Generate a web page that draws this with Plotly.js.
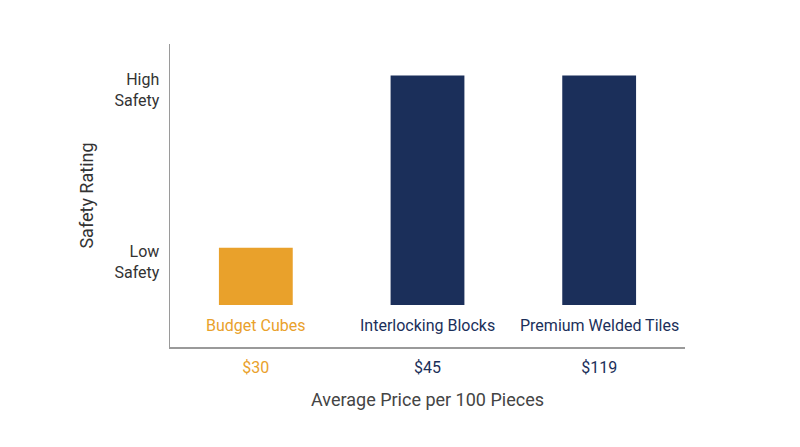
<!DOCTYPE html>
<html><head><meta charset="utf-8">
<script src="https://cdn.plot.ly/plotly-3.0.1.min.js"></script>
<style>html,body{margin:0;padding:0;background:#fff;}#chart{width:800px;height:447px;}</style>
</head><body><div id="chart"></div>
<script>
const categories = ["Budget Cubes", "Interlocking Blocks", "Premium Welded Tiles"];
const prices = ["$30", "$45", "$119"];
const safetyValues = [1, 4, 4];
const barColors = ["#E9A12B", "#1B2F5A", "#1B2F5A"];
const yTickVals = [1, 4];
const yTickText = ["Low<br>Safety", "High<br>Safety"];

const tickText = prices.map((p, i) => `<span style="color:${barColors[i]}">${p}</span>`);

const trace = {
  type: "bar",
  x: categories,
  y: safetyValues,
  marker: { color: barColors },
  hoverinfo: "skip"
};

const annotations = categories.map((c, i) => ({
  x: c, y: 0, xref: "x", yref: "y",
  text: c, showarrow: false, yanchor: "top", yshift: -9,
  font: { family: "Roboto", size: 16, color: barColors[i] }
}));

const layout = {
  width: 800, height: 447,
  margin: { l: 170, r: 115, t: 44, b: 100 },
  paper_bgcolor: "#fff", plot_bgcolor: "#fff",
  showlegend: false,
  bargap: 0.57,
  font: { family: "Roboto", color: "#333" },
  xaxis: {
    tickmode: "array", tickvals: categories, ticktext: tickText,
    showline: true, linecolor: "#9a9a9a", linewidth: 1.5,
    showgrid: false, zeroline: false, ticks: "",
    tickfont: { family: "Roboto", size: 16 },
    ticklabelstandoff: 5,
    title: { text: "Average Price per 100 Pieces", font: { family: "Roboto", size: 18, color: "#444" }, standoff: 17 }
  },
  yaxis: {
    range: [-0.73, 4.55],
    tickmode: "array", tickvals: yTickVals, ticktext: yTickText,
    showline: true, linecolor: "#9a9a9a", linewidth: 1.5,
    showgrid: false, zeroline: false, ticks: "",
    tickfont: { family: "Roboto", size: 16, color: "#333" },
    ticklabelshift: 14,
    ticklabelstandoff: 6,
    title: { text: "Safety Rating", font: { family: "Roboto", size: 18, color: "#333" }, standoff: 16 }
  },
  annotations: annotations
};

Plotly.newPlot("chart", [trace], layout, { displayModeBar: false, staticPlot: true });
</script>
</body></html>
